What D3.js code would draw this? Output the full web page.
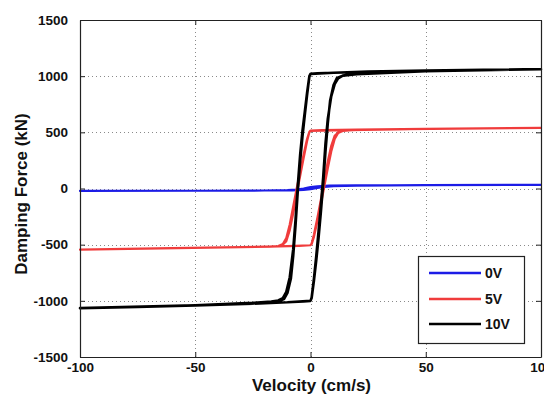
<!DOCTYPE html>
<html>
<head>
<meta charset="utf-8">
<script src="https://cdn.jsdelivr.net/npm/d3@7"></script>
<style>
  html, body { margin: 0; padding: 0; background: #fff; }
  svg { display: block; }
  text { font-family: "Liberation Sans", Arial, sans-serif; font-weight: bold; fill: #111; }
</style>
</head>
<body>
<svg id="chart" width="544" height="396"></svg>
<script>
// ---- data ----
const xTicks = [-100, -50, 0, 50, 100];
const yTicks = [-1500, -1000, -500, 0, 500, 1000, 1500];
const seriesNames = ["0V", "5V", "10V"];
const seriesColors = ["#1c1ce6", "#f03c3c", "#000000"];

// 0V: velocity (cm/s) and damping force (kN), down branch then up branch
const vel0V = [100, 50, 20, 8, 3, 0, -3, -6, -10, -20, -50, -100,
               -100, -50, -20, -8, -3, 0, 3, 6, 10, 20, 50, 100];
const force0V = [32, 30, 28, 25, 20, 12, 0, -10, -15, -18, -20, -22,
                 -22, -20, -18, -16, -12, -5, 5, 15, 22, 26, 30, 32];

// 5V
const vel5V = [100, 50, 20, 5, 0, -0.5, -1.5, -3, -4.5, -6, -7.5, -9, -10.5, -12, -14, -18, -30, -60, -100,
               -100, -60, -30, -18, -5, 0, 0.5, 1.5, 3, 4.5, 6, 7.5, 9, 10.5, 12, 14, 18, 30, 60, 100,
               100, 50, 10, 0, -0.5, -1.5, -3, -4.5, -6, -7.5, -9, -10.5, -12.5, -16, -30, -100,
               -100, -30, -10, 0, 0.5, 1.5, 3, 4.5, 6, 7.5, 9, 10.5, 12.5, 16, 30, 100];
const force5V = [540, 532, 525, 520, 515, 505, 440, 300, 150, 0, -160, -320, -440, -495, -512, -518, -522, -530, -545,
                 -545, -532, -522, -518, -512, -505, -495, -430, -290, -140, 20, 180, 330, 440, 495, 512, 520, 525, 532, 540,
                 540, 530, 518, 512, 500, 420, 270, 110, -50, -220, -370, -470, -510, -518, -522, -545,
                 -545, -522, -512, -505, -490, -410, -260, -100, 70, 240, 380, 470, 510, 518, 525, 540];

// 10V
const vel10V = [100, 75, 50, 25, 10, 3, 0, -0.5, -1.5, -2.5, -3.5, -4.5, -5.5, -6.5, -7.5, -9, -10.5, -12, -14, -17, -25, -50, -75, -100,
                -100, -75, -50, -25, -10, -3, 0, 0.5, 1.5, 2.5, 3.5, 4.5, 5.5, 6.5, 7.5, 9, 10.5, 12, 14, 17, 25, 50, 75, 100,
                100, 50, 10, 0, -0.5, -1.5, -2.5, -3.5, -4.5, -5.5, -6.5, -7.5, -8.5, -10, -11.5, -14, -20, -50, -100,
                -100, -50, -10, 0, 0.5, 1.5, 2.5, 3.5, 4.5, 5.5, 6.5, 7.5, 8.5, 10, 11.5, 14, 20, 50, 100];
const force10V = [1062, 1057, 1050, 1040, 1030, 1025, 1020, 1000, 850, 680, 510, 300, 30, -280, -540, -790, -920, -975, -997, -1007, -1018, -1040, -1055, -1065,
                  -1065, -1055, -1040, -1025, -1012, -1005, -1000, -970, -800, -600, -380, -150, 100, 400, 620, 820, 930, 980, 1005, 1015, 1025, 1045, 1055, 1062,
                  1062, 1050, 1030, 1020, 995, 830, 650, 460, 240, -20, -330, -600, -800, -930, -985, -1005, -1015, -1040, -1065,
                  -1065, -1040, -1012, -1000, -975, -820, -640, -440, -210, 40, 330, 580, 780, 920, 985, 1005, 1018, 1045, 1062];

const seriesVel = [vel0V, vel5V, vel10V];
const seriesForce = [force0V, force5V, force10V];
const seriesWidths = [2.2, 2.2, 2.6];

// ---- layout ----
const plot = { left: 80, right: 541, top: 20, bottom: 357 };
const svg = d3.select("#chart");

const x = d3.scaleLinear().domain([-100, 100]).range([plot.left, plot.right]);
const y = d3.scaleLinear().domain([-1500, 1500]).range([plot.bottom, plot.top]);
const fmt = d => String(d);

// grid
const grid = svg.append("g").attr("stroke", "#8a8a8a").attr("stroke-width", 1)
  .attr("stroke-dasharray", "1,3");
grid.selectAll("line.gx").data(xTicks.slice(1, -1)).enter().append("line")
  .attr("x1", d => Math.round(x(d)) + 0.5).attr("x2", d => Math.round(x(d)) + 0.5)
  .attr("y1", plot.top).attr("y2", plot.bottom);
grid.selectAll("line.gy").data(yTicks.slice(1, -1)).enter().append("line")
  .attr("y1", d => Math.round(y(d)) + 0.5).attr("y2", d => Math.round(y(d)) + 0.5)
  .attr("x1", plot.left).attr("x2", plot.right);

// series
const line = d3.line().x(d => x(d[0])).y(d => y(d[1]));
seriesNames.forEach((name, i) => {
  const pts = seriesVel[i].map((v, k) => [v, seriesForce[i][k]]);
  svg.append("path").datum(pts)
    .attr("d", line)
    .attr("fill", "none")
    .attr("stroke", seriesColors[i])
    .attr("stroke-width", seriesWidths[i])
    .attr("stroke-linejoin", "round");
});

// axes (inward ticks on all four sides, matlab style)
const tickLen = -5;
const axB = svg.append("g").attr("transform", `translate(0,${plot.bottom})`)
  .call(d3.axisBottom(x).tickValues(xTicks).tickFormat(fmt).tickSize(tickLen).tickPadding(5).tickSizeOuter(0));
const axT = svg.append("g").attr("transform", `translate(0,${plot.top})`)
  .call(d3.axisTop(x).tickValues(xTicks).tickSize(tickLen).tickFormat("").tickSizeOuter(0));
const axL = svg.append("g").attr("transform", `translate(${plot.left},0)`)
  .call(d3.axisLeft(y).tickValues(yTicks).tickFormat(fmt).tickSize(tickLen).tickPadding(12).tickSizeOuter(0));
const axR = svg.append("g").attr("transform", `translate(${plot.right},0)`)
  .call(d3.axisRight(y).tickValues(yTicks).tickSize(tickLen).tickFormat("").tickSizeOuter(0));

[axB, axT, axL, axR].forEach(a => {
  a.select(".domain").attr("stroke", "#222").attr("stroke-width", 1.2);
  a.selectAll(".tick line").attr("stroke", "#222");
  a.selectAll("text").attr("font-family", "'Liberation Sans', Arial, sans-serif")
    .attr("font-weight", "bold").attr("font-size", 13.5).attr("fill", "#111");
});
axB.selectAll("text").attr("dy", "0.71em");

// axis titles
svg.append("text")
  .attr("x", (plot.left + plot.right) / 2 + 1)
  .attr("y", 391)
  .attr("text-anchor", "middle")
  .attr("font-size", 17)
  .text("Velocity (cm/s)");
svg.append("text")
  .attr("transform", `translate(27,${194}) rotate(-90)`)
  .attr("text-anchor", "middle")
  .attr("font-size", 17)
  .text("Damping Force (kN)");

// legend
const lg = svg.append("g");
lg.append("rect")
  .attr("x", 418.5).attr("y", 256.5).attr("width", 106).attr("height", 87)
  .attr("fill", "#fff").attr("stroke", "#222").attr("stroke-width", 1.2);
const rowY = [273, 299, 324];
seriesNames.forEach((name, i) => {
  lg.append("line")
    .attr("x1", 429).attr("x2", 481)
    .attr("y1", rowY[i]).attr("y2", rowY[i])
    .attr("stroke", seriesColors[i]).attr("stroke-width", 2.4);
  lg.append("text")
    .attr("x", 485).attr("y", rowY[i])
    .attr("dy", "0.36em")
    .attr("font-size", 14)
    .text(name);
});
</script>
</body>
</html>
